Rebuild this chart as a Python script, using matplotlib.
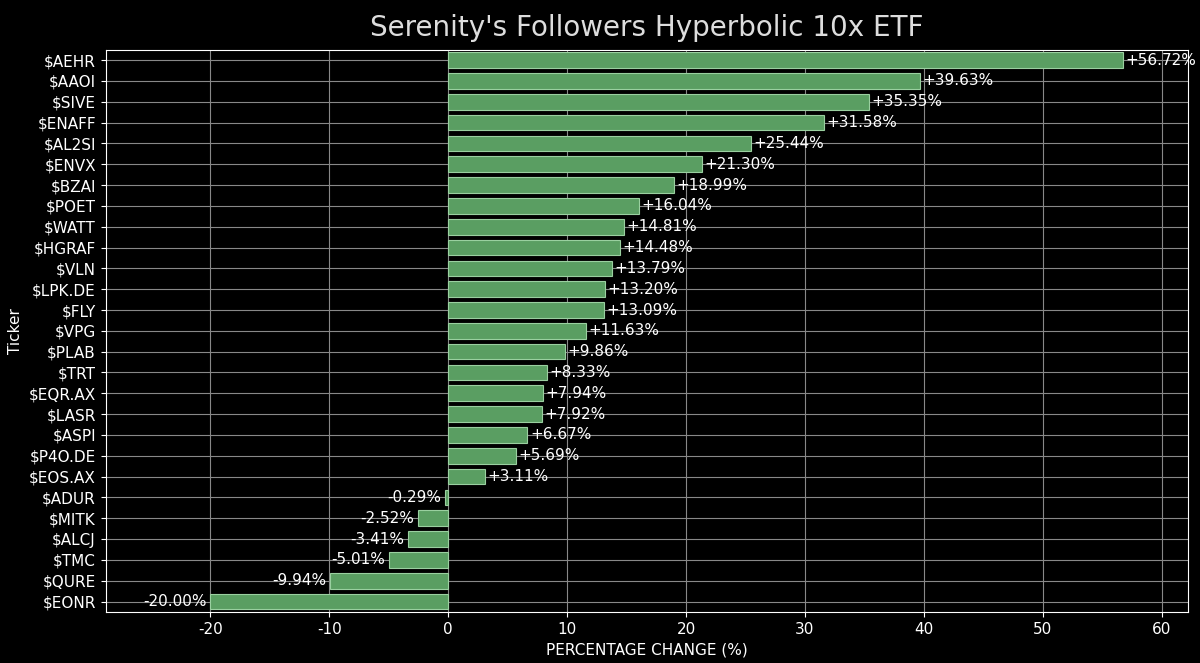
import matplotlib.pyplot as plt

plt.rcParams['axes.unicode_minus'] = False

tickers = ['$AEHR', '$AAOI', '$SIVE', '$ENAFF', '$AL2SI', '$ENVX', '$BZAI', '$POET', '$WATT',
           '$HGRAF', '$VLN', '$LPK.DE', '$FLY', '$VPG', '$PLAB', '$TRT', '$EQR.AX', '$LASR',
           '$ASPI', '$P4O.DE', '$EOS.AX', '$ADUR', '$MITK', '$ALCJ', '$TMC', '$QURE', '$EONR']
changes = [56.72, 39.63, 35.35, 31.58, 25.44, 21.30, 18.99, 16.04, 14.81, 14.48, 13.79, 13.20,
           13.09, 11.63, 9.86, 8.33, 7.94, 7.92, 6.67, 5.69, 3.11, -0.29, -2.52, -3.41, -5.01,
           -9.94, -20.00]

fig = plt.figure(figsize=(12, 6.63), dpi=100, facecolor='black')
ax = fig.add_axes([0.088, 0.077, 0.902, 0.848], facecolor='black')

y = list(range(len(tickers)))
ax.barh(y, changes, height=0.75, color='#5a9e62', edgecolor='#9ad0a0', linewidth=0.8, zorder=3)
for yi, v in zip(y, changes):
    ax.text(v + (0.2 if v >= 0 else -0.3), yi, f'{v:+.2f}%', va='center',
            ha='left' if v >= 0 else 'right', color='white', fontsize=11, zorder=4)

ax.set_yticks(y)
ax.set_yticklabels(tickers)
ax.set_ylim(len(tickers) - 0.5, -0.5)
ax.set_xlim(-28.8, 62.2)
ax.set_xticks(range(-20, 61, 10))
ax.tick_params(colors='white', labelsize=11)
ax.grid(True, color='#888888', linewidth=0.8, zorder=0)
for s in ax.spines.values():
    s.set_color('white')
ax.set_xlabel('PERCENTAGE CHANGE (%)', color='white', fontsize=11)
ax.set_ylabel('Ticker', color='white', fontsize=11)
ax.set_title("Serenity's Followers Hyperbolic 10x ETF", color='#dddddd', fontsize=20, pad=10)

fig.savefig('out.png', facecolor='black')
